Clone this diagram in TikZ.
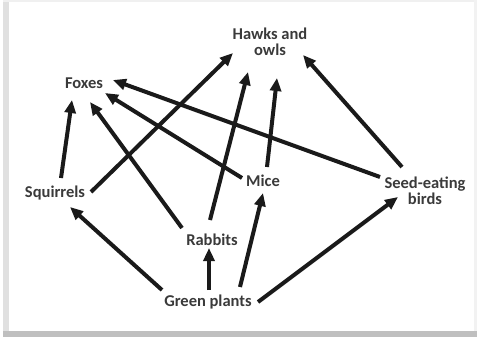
\documentclass[tikz,border=0pt]{standalone}
\usepackage{fontspec}
\setmainfont{Carlito}
\usetikzlibrary{arrows.meta}
\definecolor{txt}{HTML}{3A3A3A}
\definecolor{arr}{HTML}{1A1A1A}
\begin{document}
\begin{tikzpicture}[x=1pt,y=-1pt,
  lbl/.style={font=\bfseries\fontsize{16.5}{16.5}\selectfont, text=txt, inner sep=0pt, align=center},
  link/.style={draw=arr, line width=4pt, -{Triangle[length=13pt,width=11pt]}}]
\useasboundingbox (0,0) rectangle (477,337);
\fill[white] (0,0) rectangle (477,337);
% frame
\fill[black!12] (3,0) rectangle (9,337);
\fill[black!25] (3,331) rectangle (477,337);
\fill[black!6] (3,0) rectangle (477,2);
\fill[black!5] (474,0) rectangle (477,331);
\fill[white] (9,2) rectangle (474,331);
% nodes
\node[lbl] (H) at (270,42) {Hawks and\\owls};
\node[lbl] (F) at (84,83) {Foxes};
\node[lbl] (S) at (55,193) {Squirrels};
\node[lbl] (M) at (263,181) {Mice};
\node[lbl] (B) at (425,191) {Seed-eating\\birds};
\node[lbl] (R) at (212,240) {Rabbits};
\node[lbl] (G) at (208,302) {Green plants};
% links
\draw[link] ([shift={(6,-15)}]S.center) -- ([shift={(-12,17)}]F.center);
\draw[link] ([shift={(36,-1)}]S.center) -- ([shift={(-37,11)}]H.center);
\draw[link] ([shift={(-30,-12)}]R.center) -- ([shift={(6,19)}]F.center);
\draw[link] ([shift={(-2,-20)}]R.center) -- ([shift={(-22,30)}]H.center);
\draw[link] ([shift={(-21,-3)}]M.center) -- ([shift={(21,10)}]F.center);
\draw[link] ([shift={(4,-14)}]M.center) -- ([shift={(7,36)}]H.center);
\draw[link] ([shift={(-45,-14)}]B.center) -- ([shift={(29,-3)}]F.center);
\draw[link] ([shift={(-23,-24)}]B.center) -- ([shift={(33,13)}]H.center);
\draw[link] ([shift={(-46,-12)}]G.center) -- ([shift={(15,14)}]S.center);
\draw[link] ([shift={(1,-12)}]G.center) -- ([shift={(-3,8)}]R.center);
\draw[link] ([shift={(32,-15)}]G.center) -- ([shift={(0,12)}]M.center);
\draw[link] ([shift={(50,0)}]G.center) -- ([shift={(-27,6)}]B.center);
\end{tikzpicture}
\end{document}
